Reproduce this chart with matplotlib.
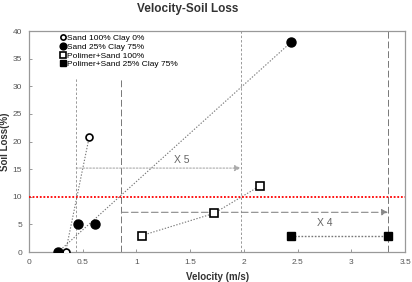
# Velocity vs soil loss chart

import matplotlib
matplotlib.use("Agg")
import matplotlib.pyplot as plt

plt.rcParams['font.family'] = ['Liberation Sans', 'DejaVu Sans']

# data
sand_x = [0.34, 0.56]
sand_y = [0.0, 20.8]
clay_x = [0.27, 0.46, 0.61, 2.44]
clay_y = [0.0, 5.0, 5.0, 38.0]
pol_sand_x = [1.05, 1.72, 2.15]
pol_sand_y = [3.0, 7.0, 12.0]
pol_clay_x = [2.44, 3.34]
pol_clay_y = [3.0, 3.0]

labels = ['Sand 100% Clay 0%', 'Sand 25% Clay 75%',
          'Polimer+Sand 100%', 'Polimer+Sand 25% Clay 75%']

# reference lines and arrows
x5_lines = [0.44, 1.97]
x5_tops = [31.7, 40]
x4_lines = [0.86, 3.34]
x4_tops = [31.7, 40]
x5_y = 15.2
x4_y = 7.2
limit_y = 10

fig = plt.figure(figsize=(4.12, 2.82), dpi=100)
ax = fig.add_axes([0.0704, 0.106, 0.913, 0.784])

# vertical guides
for xv, top in zip(x5_lines, x5_tops):
    ax.plot([xv, xv], [0, top], color='#999999', lw=0.7, dashes=(2.5, 2), zorder=1)
for xv, top in zip(x4_lines, x4_tops):
    ax.plot([xv, xv], [0, top], color='#777777', lw=0.7, dashes=(7, 3), zorder=1)

# trend lines
ax.plot(sand_x, sand_y, color='#777777', lw=0.8, ls=(0, (1.2, 1.5)), zorder=2)
ax.plot([clay_x[0], clay_x[-1]], [clay_y[0], clay_y[-1]], color='#777777', lw=0.8,
        ls=(0, (1.2, 1.5)), zorder=2)
ax.plot(pol_sand_x, pol_sand_y, color='#777777', lw=0.8, ls=(0, (1.2, 1.5)), zorder=2)
ax.plot(pol_clay_x, pol_clay_y, color='#777777', lw=1.0, ls=(0, (1.2, 1.2)), zorder=2)

# arrows
ax.annotate('', xy=(x5_lines[1], x5_y), xytext=(x5_lines[0], x5_y),
            arrowprops=dict(arrowstyle='-|>', color='#aaaaaa', lw=0.8,
                            linestyle=(0, (1.5, 1.5)), mutation_scale=9,
                            shrinkA=0, shrinkB=0))
ax.annotate('', xy=(x4_lines[1], x4_y), xytext=(x4_lines[0], x4_y),
            arrowprops=dict(arrowstyle='-|>', color='#888888', lw=0.8,
                            linestyle=(0, (6, 3)), mutation_scale=9,
                            shrinkA=0, shrinkB=0))
ax.text(1.42, 16.6, 'X 5', fontsize=7.5, color='#666666', ha='center', va='center')
ax.text(2.75, 5.3, 'X 4', fontsize=7.5, color='#666666', ha='center', va='center')

# 10% limit
ax.axhline(limit_y, color='red', lw=1.3, ls=(0, (1, 1)), zorder=3)

# points
ax.plot(sand_x, sand_y, 'o', ms=5, mfc='white', mec='black', mew=1.2, ls='none',
        label=labels[0], zorder=4)
ax.plot(clay_x, clay_y, 'o', ms=6.5, mfc='black', mec='black', ls='none',
        label=labels[1], zorder=4)
ax.plot(pol_sand_x, pol_sand_y, 's', ms=5.5, mfc='white', mec='black', mew=1.2,
        ls='none', label=labels[2], zorder=4)
ax.plot(pol_clay_x, pol_clay_y, 's', ms=6, mfc='black', mec='black', ls='none',
        label=labels[3], zorder=4)

ax.set_xlim(0, 3.5)
ax.set_ylim(0, 40)
ax.set_xticks([0, 0.5, 1, 1.5, 2, 2.5, 3, 3.5])
ax.set_xticklabels(['0', '0.5', '1', '1.5', '2', '2.5', '3', '3.5'])
ax.set_yticks(range(0, 41, 5))
ax.tick_params(labelsize=6, labelcolor='#555555', color='#888888',
               direction='in', length=2, width=0.6, pad=5)
for s in ax.spines.values():
    s.set_color('#999999')
    s.set_linewidth(0.9)

ax.set_xlabel('Velocity (m/s)', fontsize=7, fontweight='bold', color='#333333',
              labelpad=4)
ax.set_ylabel('Soil Loss(%)', fontsize=7, fontweight='bold', color='#333333',
              labelpad=2)
fig.suptitle('Velocity-Soil Loss', fontsize=8.5, fontweight='bold', color='#333333',
             x=0.455, y=0.99)

leg = ax.legend(loc='upper left', bbox_to_anchor=(0.075, 1.0), frameon=False,
                fontsize=6, handlelength=0.6, handletextpad=0.2,
                labelspacing=0.1, borderaxespad=0, markerscale=0.75)

fig.savefig('out.png', dpi=100)
